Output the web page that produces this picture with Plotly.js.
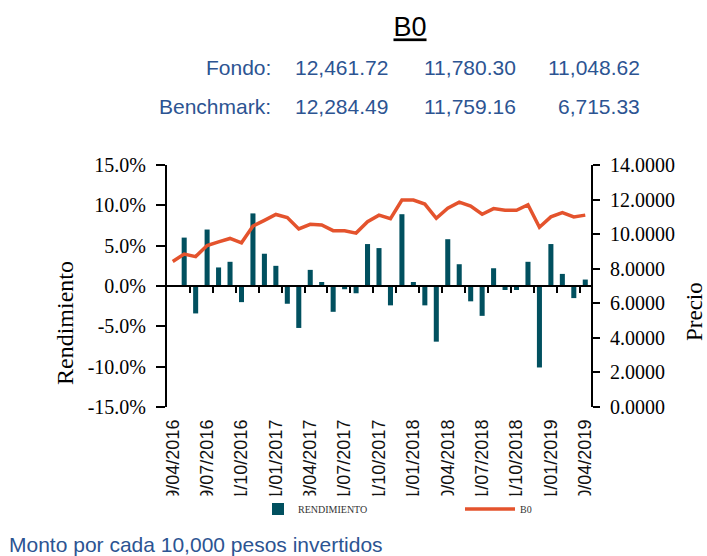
<!DOCTYPE html>
<html>
<head>
<meta charset="utf-8">
<script src="https://cdn.plot.ly/plotly-3.0.1.min.js"></script>
<style>
  html, body { margin: 0; padding: 0; background: #ffffff; }
  #chart { width: 707px; height: 556px; }
</style>
</head>
<body>
<div id="chart"></div>
<script>
// ---- Data ----
var dates = [
  "29/04/2016", "31/05/2016", "30/06/2016", "29/07/2016", "31/08/2016", "30/09/2016",
  "31/10/2016", "30/11/2016", "30/12/2016", "31/01/2017", "28/02/2017", "31/03/2017",
  "28/04/2017", "31/05/2017", "30/06/2017", "31/07/2017", "31/08/2017", "29/09/2017",
  "31/10/2017", "30/11/2017", "29/12/2017", "31/01/2018", "28/02/2018", "29/03/2018",
  "30/04/2018", "31/05/2018", "29/06/2018", "31/07/2018", "31/08/2018", "28/09/2018",
  "31/10/2018", "30/11/2018", "31/12/2018", "31/01/2019", "28/02/2019", "29/03/2019",
  "30/04/2019"
];
var rendimiento = [
  0.000, 0.060, -0.034, 0.070, 0.023, 0.030,
  -0.020, 0.090, 0.040, 0.025, -0.022, -0.052,
  0.020, 0.005, -0.032, -0.004, -0.009, 0.052,
  0.047, -0.024, 0.089, 0.005, -0.024, -0.069,
  0.058, 0.027, -0.019, -0.037, 0.022, -0.005,
  -0.005, 0.030, -0.101, 0.052, 0.015, -0.015,
  0.008
];
var precioB0 = [
  8.42, 8.85, 8.70, 9.34, 9.55, 9.75,
  9.50, 10.47, 10.80, 11.14, 10.96, 10.30,
  10.57, 10.53, 10.20, 10.20, 10.06, 10.72,
  11.10, 10.90, 11.97, 11.97, 11.74, 10.92,
  11.50, 11.85, 11.62, 11.15, 11.48, 11.38,
  11.38, 11.70, 10.40, 11.00, 11.25, 11.00,
  11.10
];
var leftTickVals = [-0.15, -0.10, -0.05, 0, 0.05, 0.10, 0.15];
var leftTickText = ["-15.0%", "-10.0%", "-5.0%", "0.0%", "5.0%", "10.0%", "15.0%"];
var rightTickVals = [0, 2, 4, 6, 8, 10, 12, 14];

var headerLabels = ["Fondo:", "Benchmark:"];
var fondoValues = ["12,461.72", "11,780.30", "11,048.62"];
var benchmarkValues = ["12,284.49", "11,759.16", "6,715.33"];
var chartTitle = "B0";
var footerText = "Monto por cada 10,000 pesos invertidos";

// ---- Derived helpers ----
var idx = dates.map(function (d, i) { return i; });
var labelIdx = idx.filter(function (i) { return i % 3 === 0; });
var labelText = labelIdx.map(function (i) { return dates[i]; });
var boundaryTicks = idx.filter(function (i) { return i % 2 === 1 && i < dates.length - 1; })
                       .map(function (i) { return i + 0.5; });

// pixel -> paper helpers (plot area: x 167..591, y 165..407)
var L = 167, R = 591, T = 165, B = 407;
function px(x) { return (x - L) / (R - L); }
function py(y) { return (B - y) / (B - T); }

var serif = "Liberation Serif, Times New Roman, serif";
var sans = "Liberation Sans, Arial, sans-serif";
var blue = "#2C5492";

var traces = [
  {
    type: "bar",
    name: "RENDIMIENTO",
    x: idx,
    y: rendimiento,
    marker: { color: "#01505F" },
    xaxis: "x",
    yaxis: "y",
    legend: "legend"
  },
  {
    type: "scatter",
    mode: "lines",
    name: "B0",
    x: idx,
    y: precioB0,
    line: { color: "#E4532D", width: 3.5 },
    xaxis: "x2",
    yaxis: "y2",
    legend: "legend2"
  }
];

var annotations = [];
var valueRight = [390, 518, 642];
var rowY = [67, 106];
annotations.push({ text: headerLabels[0], x: px(273), y: py(rowY[0]), xanchor: "right", yanchor: "middle" });
annotations.push({ text: headerLabels[1], x: px(273), y: py(rowY[1]), xanchor: "right", yanchor: "middle" });
fondoValues.forEach(function (v, i) {
  annotations.push({ text: v, x: px(valueRight[i]), y: py(rowY[0]), xanchor: "right", yanchor: "middle" });
});
benchmarkValues.forEach(function (v, i) {
  annotations.push({ text: v, x: px(valueRight[i]), y: py(rowY[1]), xanchor: "right", yanchor: "middle" });
});
annotations.forEach(function (a) {
  a.xref = "paper"; a.yref = "paper"; a.showarrow = false;
  a.font = { family: sans, size: 21, color: blue };
});
annotations.push({
  text: footerText, xref: "paper", yref: "paper", x: px(7), y: py(544),
  xanchor: "left", yanchor: "middle", showarrow: false,
  font: { family: sans, size: 21, color: blue }
});
annotations.push({
  text: "Rendimiento", xref: "paper", yref: "paper", x: px(65), y: py(323),
  xanchor: "center", yanchor: "middle", textangle: -90, showarrow: false,
  font: { family: serif, size: 24, color: "#000" }
});
annotations.push({
  text: "Precio", xref: "paper", yref: "paper", x: px(694), y: py(312),
  xanchor: "center", yanchor: "middle", textangle: -90, showarrow: false,
  font: { family: serif, size: 23, color: "#000" }
});

var layout = {
  width: 707,
  height: 556,
  margin: { l: L, r: 707 - R, t: T, b: 556 - B, pad: 0 },
  paper_bgcolor: "#ffffff",
  plot_bgcolor: "#ffffff",
  showlegend: true,
  hovermode: false,
  bargap: 0.56,
  title: {
    text: "<u>" + chartTitle + "</u>",
    font: { family: sans, size: 27, color: "#000" },
    xref: "container", yref: "container",
    x: 410 / 707, xanchor: "center",
    y: 1 - 27 / 556, yanchor: "middle"
  },
  xaxis: {
    type: "linear",
    range: [-0.5, dates.length - 0.5],
    tickvals: labelIdx,
    ticktext: labelText,
    tickangle: -90,
    ticks: "",
    showline: false,
    showgrid: false,
    zeroline: false,
    ticklabelstandoff: 8,
    tickfont: { family: sans, size: 18, color: "#111" }
  },
  xaxis2: {
    type: "linear",
    overlaying: "x",
    anchor: "free",
    position: 0.5,
    range: [-0.5, dates.length - 0.5],
    tickvals: boundaryTicks,
    ticks: "outside",
    ticklen: 6,
    tickwidth: 2,
    tickcolor: "#000",
    showline: true,
    linecolor: "#000",
    linewidth: 2,
    showticklabels: false,
    showgrid: false,
    zeroline: false
  },
  yaxis: {
    range: [-0.15, 0.15],
    tickvals: leftTickVals,
    ticktext: leftTickText,
    ticks: "outside",
    ticklen: 9,
    tickwidth: 2,
    tickcolor: "#000",
    showline: true,
    linecolor: "#000",
    linewidth: 2,
    showgrid: false,
    zeroline: false,
    ticklabelstandoff: 6,
    tickfont: { family: serif, size: 20, color: "#000" }
  },
  yaxis2: {
    overlaying: "y",
    side: "right",
    anchor: "x2",
    range: [0, 14],
    tickvals: rightTickVals,
    tickformat: ".4f",
    ticks: "outside",
    ticklen: 7,
    tickwidth: 2,
    tickcolor: "#000",
    showline: true,
    linecolor: "#000",
    linewidth: 2,
    showgrid: false,
    zeroline: false,
    ticklabelstandoff: 6,
    tickfont: { family: serif, size: 20, color: "#000" }
  },
  yaxis3: {
    overlaying: "y",
    side: "right",
    anchor: "x",
    range: [0, 14],
    tickvals: rightTickVals,
    ticks: "inside",
    ticklen: 6,
    tickwidth: 2,
    tickcolor: "#000",
    showline: false,
    showticklabels: false,
    showgrid: false,
    zeroline: false
  },
  legend: {
    orientation: "h",
    x: px(258), xanchor: "left",
    y: py(509), yanchor: "middle",
    font: { family: serif, size: 10, color: "#333" },
    bgcolor: "rgba(0,0,0,0)"
  },
  legend2: {
    orientation: "h",
    x: px(460), xanchor: "left",
    y: py(509), yanchor: "middle",
    itemwidth: 50,
    font: { family: serif, size: 10, color: "#333" },
    bgcolor: "rgba(0,0,0,0)"
  },
  shapes: [
    {
      type: "rect", xref: "paper", yref: "paper", layer: "above",
      x0: px(150), x1: px(600), y0: py(522), y1: py(495.5),
      fillcolor: "#ffffff", line: { width: 0 }
    }
  ],
  annotations: annotations
};

Plotly.newPlot("chart", traces, layout, { displayModeBar: false, staticPlot: true });
</script>
</body>
</html>
